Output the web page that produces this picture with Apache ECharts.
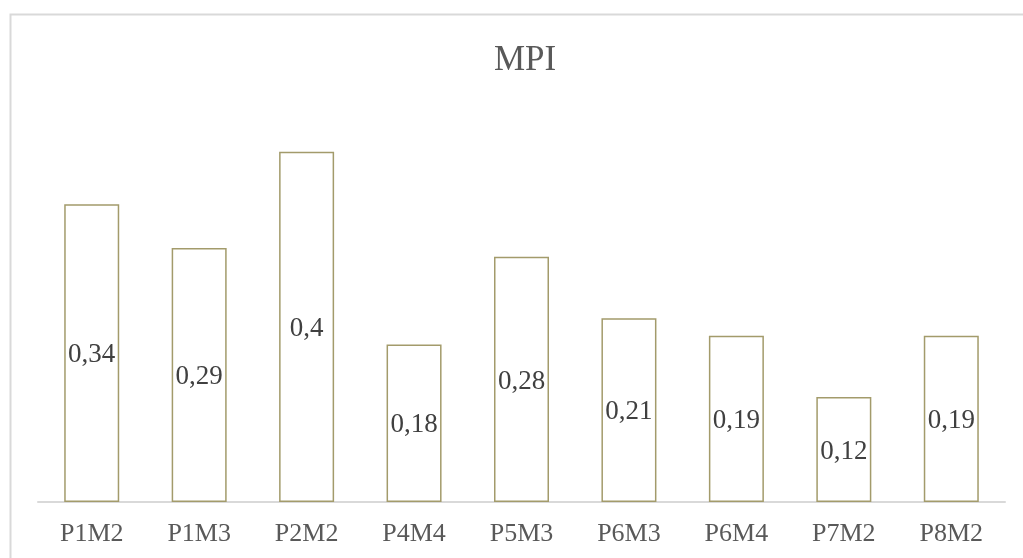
<!DOCTYPE html>
<html>
<head>
<meta charset="utf-8">
<script src="https://cdn.jsdelivr.net/npm/echarts@6/dist/echarts.min.js"></script>
<style>
  html, body { margin: 0; padding: 0; background: #ffffff; }
  #chart { width: 1023px; height: 558px; }
</style>
</head>
<body>
<div id="chart"></div>
<script>
// MPI per sample
const categories = ['P1M2', 'P1M3', 'P2M2', 'P4M4', 'P5M3', 'P6M3', 'P6M4', 'P7M2', 'P8M2'];
const mpiValues = [0.34, 0.29, 0.4, 0.18, 0.28, 0.21, 0.19, 0.12, 0.19];

const serif = '"Liberation Serif", "Times New Roman", serif';
const chart = echarts.init(document.getElementById('chart'), null, { renderer: 'canvas' });

chart.setOption({
  animation: false,
  backgroundColor: '#ffffff',
  graphic: [{
    type: 'rect',
    left: 8, top: 12,
    shape: { x: 0, y: 0, width: 1100, height: 600 },
    style: { fill: 'none', stroke: '#d9d9d9', lineWidth: 2 },
    silent: true
  }],
  title: {
    text: 'MPI',
    left: 489,
    top: 38,
    textStyle: { fontFamily: serif, fontSize: 35, fontWeight: 'normal', color: '#595959' }
  },
  grid: { left: 38, right: 18, top: 108, bottom: 56 },
  xAxis: {
    type: 'category',
    data: categories,
    axisLine: { show: true, lineStyle: { color: '#d9d9d9', width: 2 } },
    axisTick: { show: false },
    axisLabel: { fontFamily: serif, fontSize: 26, color: '#595959', margin: 19 }
  },
  yAxis: {
    type: 'value',
    min: 0,
    max: 0.45,
    show: false,
    splitLine: { show: false }
  },
  series: [{
    type: 'bar',
    data: mpiValues,
    barWidth: 55,
    itemStyle: { color: '#ffffff', borderColor: '#a39b6b', borderWidth: 1.5 },
    label: {
      show: true,
      position: 'inside',
      offset: [0, 2],
      fontFamily: serif,
      fontSize: 27,
      color: '#404040',
      formatter: p => String(p.value).replace('.', ',')
    }
  }]
});
</script>
</body>
</html>
